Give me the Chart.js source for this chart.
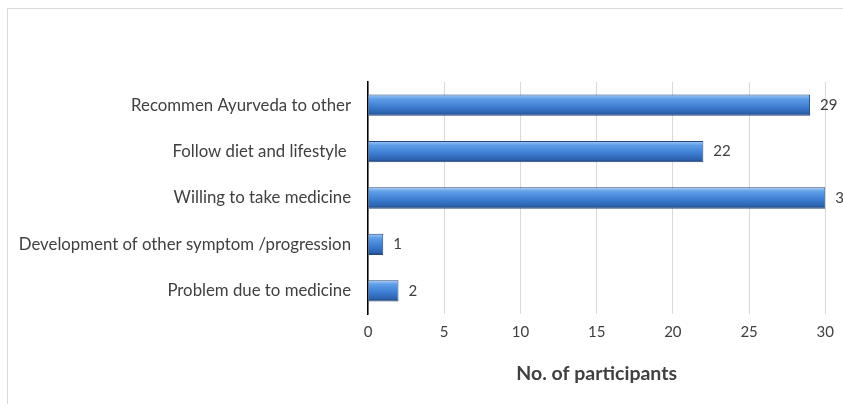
<!DOCTYPE html>
<html>
<head>
<meta charset="utf-8">
<script src="https://cdn.jsdelivr.net/npm/chart.js@4"></script>
<style>
  html, body { margin: 0; padding: 0; background: #fff; overflow: hidden; }
  #frame { position: absolute; left: 7px; top: 8px; width: 1000px; height: 600px; border: 1px solid #d9d9d9; }
  #wrap { position: absolute; left: 0; top: 0; width: 843px; height: 404px; }
</style>
</head>
<body>
<div id="frame"></div>
<div id="wrap"><canvas id="chart" width="843" height="404"></canvas></div>
<script>
const categories = ['Recommen Ayurveda to other', 'Follow diet and lifestyle ', 'Willing to take medicine', 'Development of other symptom /progression', 'Problem due to medicine'];
const participants = [29, 22, 30, 1, 2];
const xTicks = [0, 5, 10, 15, 20, 25, 30];
const axisTitle = 'No. of participants';

const FONT = 'Lato, "Open Sans", sans-serif';
const TEXT = '#404040';

function barGradient(context) {
  const chart = context.chart;
  const yScale = chart.scales.y;
  if (!yScale || context.dataIndex === undefined) return '#3d7fd4';
  const c = yScale.getPixelForValue(context.dataIndex);
  if (!isFinite(c)) return '#3d7fd4';
  const half = 10.5;
  const g = chart.ctx.createLinearGradient(0, c - half, 0, c + half);
  g.addColorStop(0, '#a3c8f4');
  g.addColorStop(0.2, '#5d9de8');
  g.addColorStop(0.6, '#3b7bd0');
  g.addColorStop(0.88, '#2c62ac');
  g.addColorStop(1, '#1f3f72');
  return g;
}

const valueLabels = {
  id: 'valueLabels',
  afterDatasetsDraw(chart) {
    const ctx = chart.ctx;
    const meta = chart.getDatasetMeta(0);
    ctx.save();
    ctx.font = '15px ' + FONT;
    ctx.fillStyle = TEXT;
    ctx.textAlign = 'left';
    ctx.textBaseline = 'middle';
    meta.data.forEach((bar, i) => {
      ctx.fillText(String(participants[i]), bar.x + 10, bar.y);
    });
    ctx.restore();
  }
};

new Chart(document.getElementById('chart'), {
  type: 'bar',
  data: {
    labels: categories,
    datasets: [{
      data: participants,
      backgroundColor: barGradient,
      borderColor: '#23497e',
      borderWidth: 1,
      borderSkipped: 'start',
      categoryPercentage: 1,
      barPercentage: 0.46
    }]
  },
  options: {
    indexAxis: 'y',
    responsive: false,
    animation: false,
    layout: { padding: { top: 82, right: 17, bottom: 0, left: 0 } },
    plugins: { legend: { display: false }, tooltip: { enabled: false } },
    scales: {
      x: {
        min: 0,
        max: 30,
        afterBuildTicks(scale) { scale.ticks = xTicks.map(v => ({ value: v })); },
        afterFit(scale) { scale.height = 90; },
        grid: { color: '#d9d9d9', drawTicks: false, lineWidth: 1 },
        border: { display: false },
        ticks: { color: TEXT, font: { family: FONT, size: 15 }, padding: 9 },
        title: { display: true, text: axisTitle, color: TEXT, font: { family: FONT, size: 19.5, weight: 'bold' }, padding: { top: 0, bottom: 19 } }
      },
      y: {
        afterFit(scale) { scale.width = 368; },
        grid: { display: false, drawTicks: false },
        border: { display: true, color: '#000', width: 1.5 },
        ticks: { color: TEXT, font: { family: FONT, size: 16.8 }, padding: 17 }
      }
    }
  },
  plugins: [valueLabels]
});
</script>
</body>
</html>
